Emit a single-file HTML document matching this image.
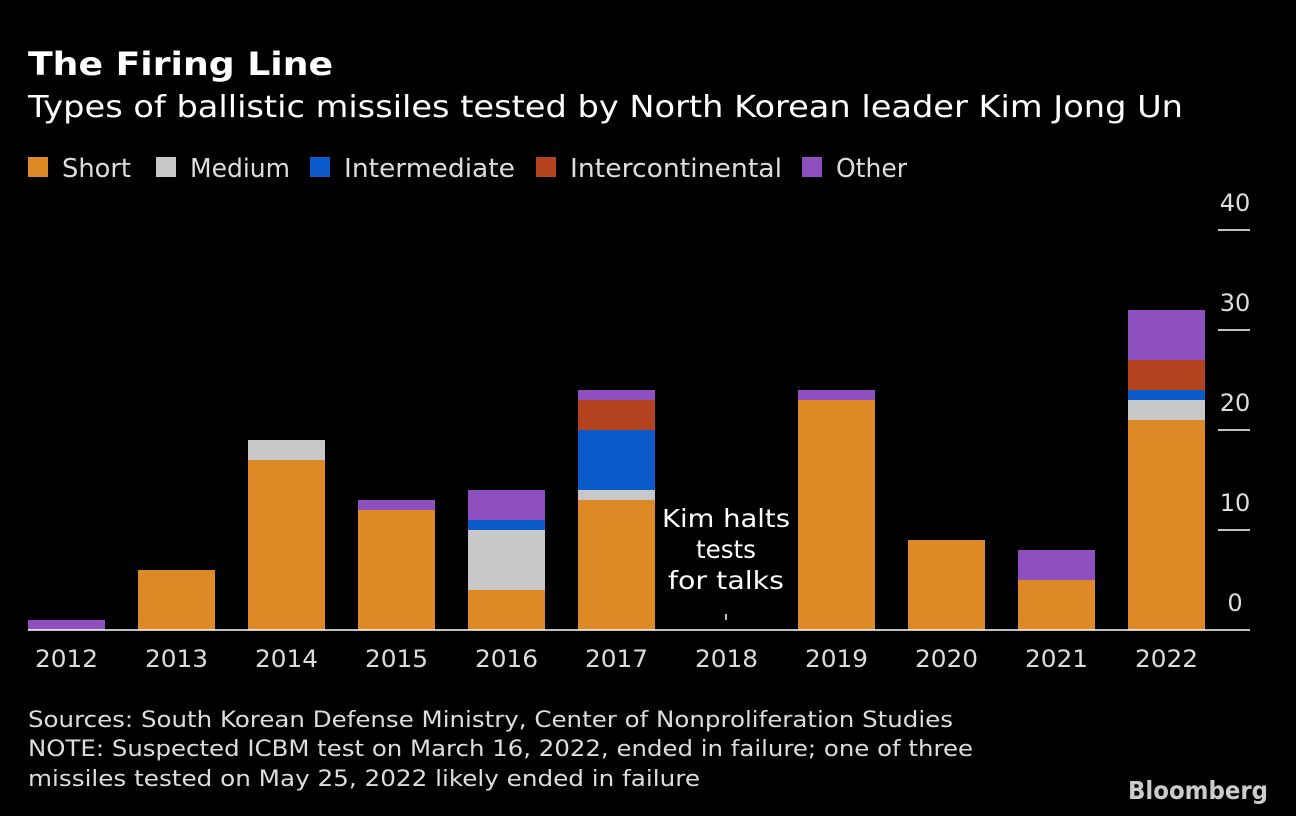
<!DOCTYPE html>
<html><head><meta charset="utf-8"><style>
body{margin:0;background:#000;width:1296px;height:816px;overflow:hidden;font-family:"DejaVu Sans","Liberation Sans",sans-serif;color:#fff}
svg{position:absolute;left:0;top:0}
text{font-family:"DejaVu Sans","Liberation Sans",sans-serif}
</style></head><body>
<svg width="1296" height="816">
<text x="28" y="75" font-size="32" font-weight="bold" fill="#fff" textLength="305" lengthAdjust="spacingAndGlyphs">The Firing Line</text>
<text x="28" y="117" font-size="30" fill="#fff" textLength="1155" lengthAdjust="spacingAndGlyphs">Types of ballistic missiles tested by North Korean leader Kim Jong Un</text>
<g id="legend"></g>
<g id="axis"></g>
<g id="bars"></g>
<g id="xl"></g>
<line x1="28" x2="1250" y1="630" y2="630" stroke="#fff" stroke-width="1.5"/>
<g font-size="25" fill="#fff" text-anchor="middle">
<text x="726" y="527" textLength="128" lengthAdjust="spacingAndGlyphs">Kim halts</text><text x="726" y="558" textLength="60" lengthAdjust="spacingAndGlyphs">tests</text><text x="726" y="589" textLength="116" lengthAdjust="spacingAndGlyphs">for talks</text>
<line x1="726" x2="726" y1="614" y2="620" stroke="#fff" stroke-width="1.5"/>
</g>
<g font-size="22" fill="#ddd">
<text x="28" y="727" textLength="925" lengthAdjust="spacingAndGlyphs">Sources: South Korean Defense Ministry, Center of Nonproliferation Studies</text>
<text x="28" y="756" textLength="945" lengthAdjust="spacingAndGlyphs">NOTE: Suspected ICBM test on March 16, 2022, ended in failure; one of three</text>
<text x="28" y="786" textLength="672" lengthAdjust="spacingAndGlyphs">missiles tested on May 25, 2022 likely ended in failure</text>
</g>
<text x="1128" y="799" font-size="25" font-weight="bold" fill="#ccc" textLength="140" lengthAdjust="spacingAndGlyphs" font-family="Liberation Sans">Bloomberg</text>
</svg>
<script>
const years=["2012","2013","2014","2015","2016","2017","2018","2019","2020","2021","2022"];
const shortV=[0,6,17,12,4,13,0,23,9,5,21];
const mediumV=[0,0,2,0,6,1,0,0,0,0,2];
const interV=[0,0,0,0,1,6,0,0,0,0,1];
const icbmV=[0,0,0,0,0,3,0,0,0,0,3];
const otherV=[1,0,0,1,3,1,0,1,0,3,5];
const ticks=[0,10,20,30,40];
const seriesNames=["Short","Medium","Intermediate","Intercontinental","Other"];
const colors=["#dd8a26","#c8c8c8","#0b5bca","#b3421f","#8f50bf"];
const NS="http://www.w3.org/2000/svg";
const y=v=>630-v*10;
const x=i=>28+i*110;
const bw=77;
function mk(t,a,p){const e=document.createElementNS(NS,t);for(const k in a)e.setAttribute(k,a[k]);p.appendChild(e);return e;}
const series=[shortV,mediumV,interV,icbmV,otherV];
const bars=document.getElementById('bars');
years.forEach((yr,i)=>{let acc=0;series.forEach((s,j)=>{if(s[i]>0){const r=mk('rect',{x:x(i),y:y(acc+s[i]),width:bw,height:s[i]*10,fill:colors[j]},bars);

}acc+=s[i];});
const t=mk('text',{x:x(i)+bw/2,y:667,'text-anchor':'middle','font-size':24,fill:'#ddd',textLength:63,lengthAdjust:'spacingAndGlyphs'},document.getElementById('xl'));t.textContent=yr;

});
const ax=document.getElementById('axis');
ticks.forEach(v=>{if(v>0){const l=mk('line',{x1:1218,x2:1250,y1:y(v),y2:y(v),stroke:'#fff','stroke-width':1.5},ax);

}
const t=mk('text',{x:1235,y:y(v)-19,'text-anchor':'middle','font-size':24,fill:'#ddd'},ax);t.textContent=v;

});
const lg=document.getElementById('legend');
const offs=[28,156,310,536,802];
const lens=[69,100,171,212,71];
seriesNames.forEach((n,j)=>{const g=mk('g',{},lg);


mk('rect',{x:offs[j],y:157,width:20,height:20,fill:colors[j]},g);
const t=mk('text',{x:offs[j]+34,y:177,'font-size':26,fill:'#ddd',textLength:lens[j],lengthAdjust:'spacingAndGlyphs'},g);t.textContent=n;});
</script>
</body></html>
